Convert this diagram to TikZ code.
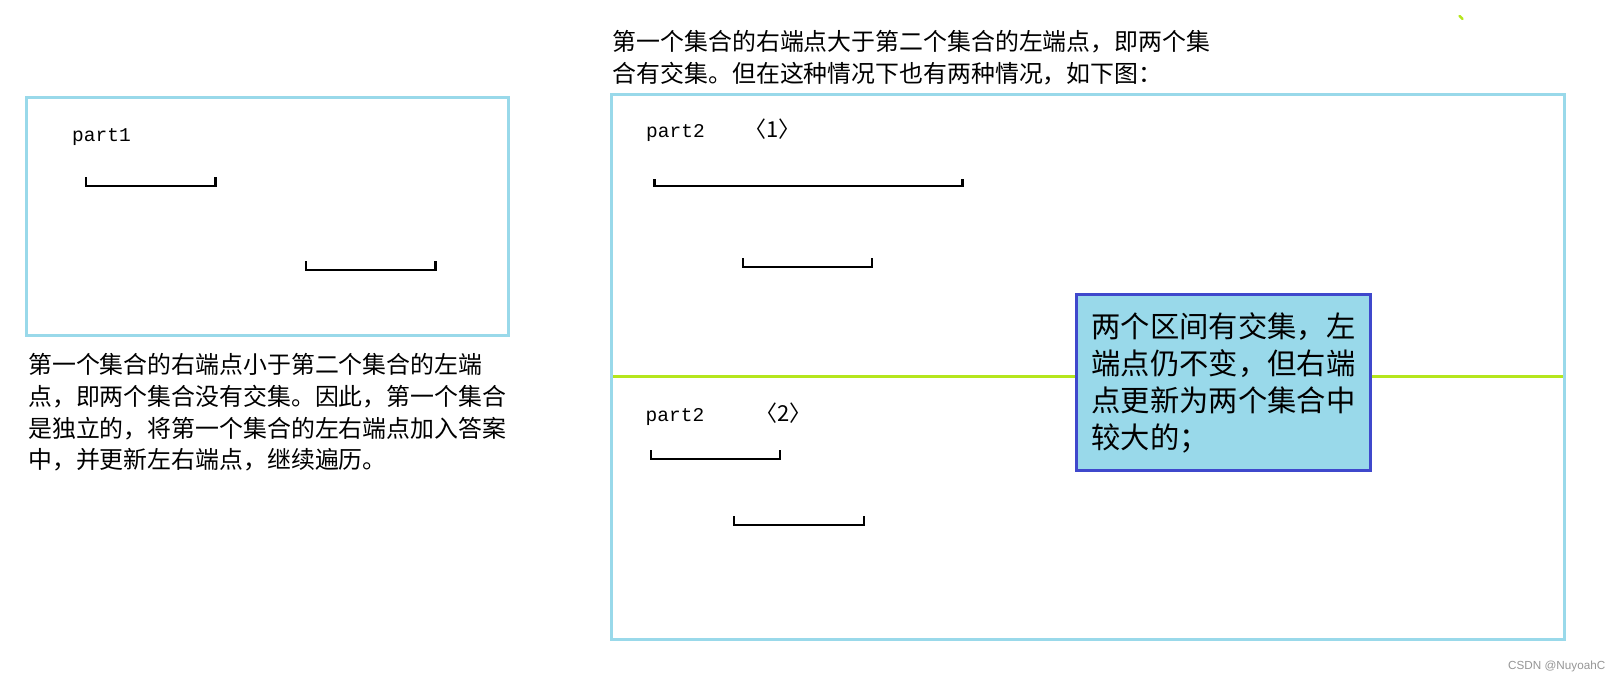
\documentclass[tikz,border=0pt]{standalone}
\usepackage{fontspec}
\usepackage{xcolor}
\usetikzlibrary{positioning}
\newfontfamily\cjk{Noto Sans CJK SC}
\newfontfamily\latinfont{Liberation Mono}
\newfontfamily\markfont{Liberation Sans}
\definecolor{framecyan}{RGB}{153,217,234}
\definecolor{limeline}{RGB}{181,230,29}
\definecolor{noteblue}{RGB}{63,72,204}
\definecolor{marktext}{RGB}{150,150,150}

\begin{document}
\begin{tikzpicture}[x=1pt,y=-1pt,
  boxframe/.style={draw=framecyan,line width=3pt},
  seg/.style={line width=2.8pt,line cap=rect},
  para/.style={font=\cjk\fontsize{23.9}{31.8}\selectfont,align=left,inner sep=0pt,anchor=north west},
  tag/.style={font=\latinfont\fontsize{19.5}{22}\selectfont,inner sep=0pt,anchor=base west},
  idx/.style={font=\cjk\fontsize{22}{24}\selectfont,inner sep=0pt,anchor=base west},
  note/.style={draw=noteblue,fill=framecyan,line width=3pt,anchor=north west,
    minimum width=294pt,minimum height=176pt,align=left,
    font=\cjk\fontsize{29.3}{37}\selectfont}]
\fill[white] (0,0) rectangle (1621,682);
\useasboundingbox (0,0) rectangle (1621,682);

% left case: no overlap
\draw[boxframe] (26.5,97.5) rectangle (508,335.5);
\node[tag] (p1) at (72,142) {part1};
\draw[seg] (86,178) |- (215.5,186) -- (215.5,178);
\draw[seg] (306,262) |- (435.5,270) -- (435.5,262);
\node[para] (lefttext) at (28,353)
  {第一个集合的右端点小于第二个集合的左端\\
   点，即两个集合没有交集。因此，第一个集合\\
   是独立的，将第一个集合的左右端点加入答案\\
   中，并更新左右端点，继续遍历。};

% right case: overlap
\node[para] (toptext) at (612.5,30)
  {第一个集合的右端点大于第二个集合的左端点，即两个集\\
   合有交集。但在这种情况下也有两种情况，如下图：};
\draw[limeline,line width=3pt] (611,376.5) -- (1564.5,376.5);
\draw[boxframe] (611,94.5) rectangle (1564.5,639);

\node[tag] (p2a) at (646,137) {part2};
\node[idx] (c1) at (744,137) {〈1〉};
\draw[seg] (654.5,180) |- (962.5,186) -- (962.5,180);
\draw[seg] (743,259) |- (872,267) -- (872,259);

\node[tag] (p2b) at (645.5,421) {part2};
\node[idx] (c2) at (755,421) {〈2〉};
\draw[seg] (651,451) |- (780,459) -- (780,451);
\draw[seg] (734,517) |- (864,525) -- (864,517);

\node[note,inner xsep=12pt] (tip) at (1075,293)
  {两个区间有交集，左\\端点仍不变，但右端\\点更新为两个集合中\\较大的；};

\draw[limeline,line width=2.5pt,line cap=round] (1459.5,16) -- (1462.5,19);
\node[font=\markfont\fontsize{11.7}{13}\selectfont,text=marktext,inner sep=0pt,anchor=base west]
  (mark) at (1508,669) {CSDN @NuyoahC};
\end{tikzpicture}
\end{document}
